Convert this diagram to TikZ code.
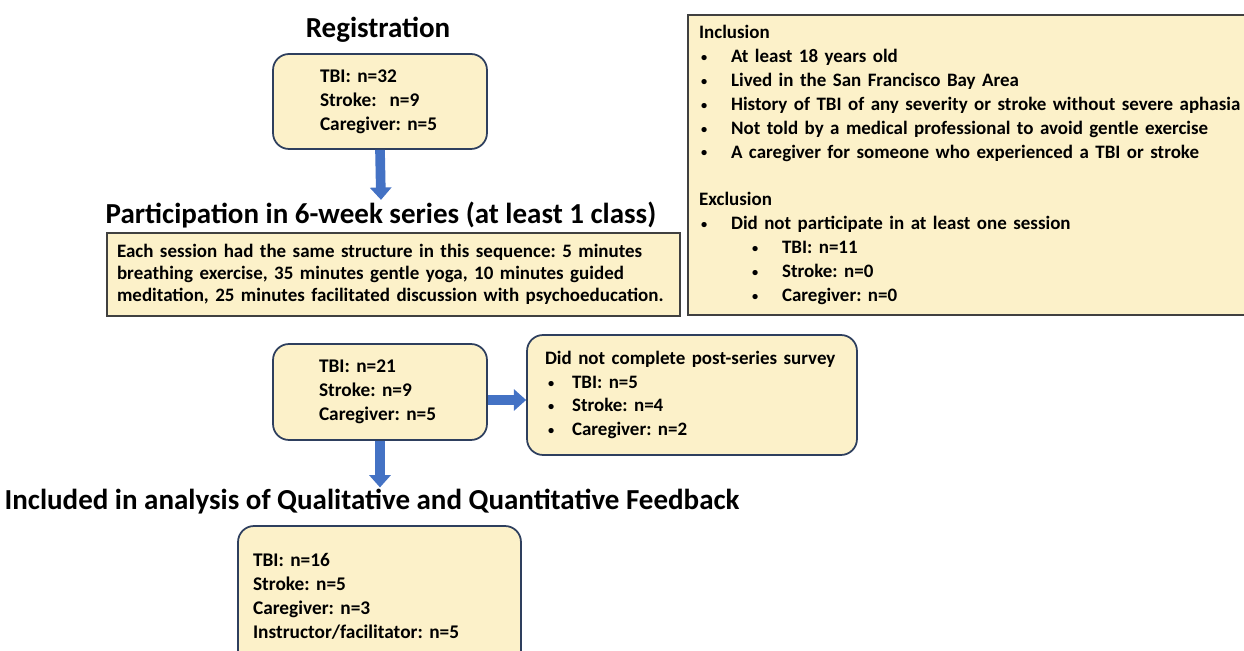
\documentclass[tikz,border=0pt]{standalone}
\usepackage{fontspec}
\setmainfont{Carlito}
\frenchspacing
\usetikzlibrary{arrows.meta,positioning}
\definecolor{boxfill}{HTML}{FCF1C9}
\definecolor{boxline}{HTML}{2E3F5E}
\definecolor{arrowblue}{HTML}{4472C4}
\newcommand{\bitem}[2]{\hspace*{#1}\makebox[#2][l]{\raisebox{0.12ex}{\scalebox{0.65}{\textbullet}}}}

\tikzset{
    rbox/.style={draw=boxline, fill=boxfill, line width=1pt, rounded corners=0.32cm,
        align=left, inner sep=0pt, font=\fontsize{11}{13.6}\selectfont\bfseries},
    sbox/.style={draw=black!75, fill=boxfill, line width=0.8pt,
        align=left, inner sep=0pt, font=\fontsize{11}{13.6}\selectfont\bfseries},
    title/.style={font=\fontsize{16.5}{19}\selectfont\bfseries, inner sep=1pt},
    blockarrow/.style={arrowblue, line width=5.5pt, -{Triangle[width=12pt,length=7pt]}}
}

\begin{document}
\begin{tikzpicture}[x=0.02cm, y=-0.02cm]
\useasboundingbox (0,0) rectangle (1244,651);

%% titles
\node[title] (regt) at (378,30) {Registration};
\node[title] (part) at (381,215) {Participation in 6-week series (at least 1 class)};
\node[title] (incl) at (372,502) {Included in analysis of Qualitative and Quantitative Feedback};

% Registration
\node[rbox, text width=4.28cm, minimum height=1.9cm] (reg) at (380,101.5)
    {\leftskip=0.94cm TBI: n=32\\ Stroke:\ \ n=9\\ Caregiver: n=5\par};

% session structure
\node[sbox, text width=11.46cm, minimum height=1.66cm] (sess) at (393.5,274.5)
    {\leftskip=0.2cm \fontsize{10.8}{12.5}\selectfont
    Each session had the same structure in this sequence: 5 minutes\\
    breathing exercise, 35 minutes gentle yoga, 10 minutes guided\\
    meditation, 25 minutes facilitated discussion with psychoeducation.\par};

% criteria
\node[sbox, text width=11.52cm, minimum height=6cm] (crit) at (976,165)
    {\leftskip=0.22cm \fontsize{10.8}{13.6}\selectfont Inclusion\\
    \bitem{0.04cm}{0.6cm}At least 18 years old\\
    \bitem{0.04cm}{0.6cm}Lived in the San Francisco Bay Area\\
    \bitem{0.04cm}{0.6cm}History of TBI of any severity or stroke without severe aphasia\\
    \bitem{0.04cm}{0.6cm}Not told by a medical professional to avoid gentle exercise\\
    \bitem{0.04cm}{0.6cm}A caregiver for someone who experienced a TBI or stroke\\
    \mbox{}\\
    Exclusion\\
    \bitem{0.04cm}{0.6cm}Did not participate in at least one session\\
    \bitem{1.06cm}{0.6cm}TBI: n=11\\
    \bitem{1.06cm}{0.6cm}Stroke: n=0\\
    \bitem{1.06cm}{0.6cm}Caregiver: n=0\par};

% after series
\node[rbox, text width=4.28cm, minimum height=1.92cm] (mid) at (380,392)
    {\leftskip=0.92cm TBI: n=21\\ Stroke: n=9\\ Caregiver: n=5\par};

\node[rbox, text width=6.6cm, minimum height=2.4cm] (surv) at (692,395)
    {\leftskip=0.36cm \fontsize{10.8}{13.4}\selectfont Did not complete post-series survey\\
    \bitem{0.06cm}{0.48cm}TBI: n=5\\
    \bitem{0.06cm}{0.48cm}Stroke: n=4\\
    \bitem{0.06cm}{0.48cm}Caregiver: n=2\par};

% analysed
\node[rbox, text width=5.66cm, minimum height=2.8cm] (fin) at (379.5,596)
    {\leftskip=0.3cm TBI: n=16\\ Stroke: n=5\\ Caregiver: n=3\\ Instructor/facilitator: n=5\par};

% arrows
\draw[blockarrow] (reg.south) -- (part.north);
\draw[blockarrow] ([yshift=-0.16cm]mid.east) -- ([yshift=-0.16cm]mid.east -| surv.west);
\draw[blockarrow] (mid.south) -- (mid.south |- incl.north);

\end{tikzpicture}
\end{document}
